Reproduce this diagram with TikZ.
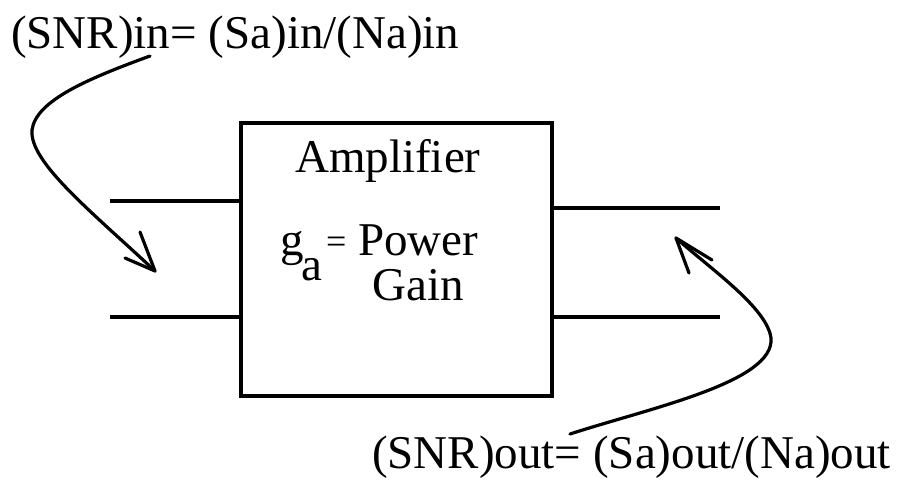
\documentclass[tikz,border=0pt]{standalone}
\usepackage{fontspec}
\setmainfont{Liberation Serif}
\begin{document}
\begin{tikzpicture}[x=1pt,y=-1pt,
  txt/.style={inner sep=0pt,anchor=base west,font=\fontsize{47}{56}\selectfont},
  wire/.style={line width=3.5pt},
  curve/.style={line width=3.2pt,line cap=round,line join=round},
  ampbox/.style={draw,line width=4pt,minimum width=311pt,minimum height=273pt,inner sep=0pt}]
\useasboundingbox (0,0) rectangle (907,480);
% box
\node[ampbox] (amp) at (396,259) {};
% texts inside
\node[txt] (ampl) at (295,172) {Amplifier};
\node[txt] (g) at (280,255) {g};
\node[txt] (gsub) at (301,280) {a};
\node[txt,font=\fontsize{36}{40}\selectfont] (eq) at (326,253) {=};
\node[txt] (pw) at (358,255) {Power};
\node[txt] (gn) at (372,300) {Gain};
% labels
\node[txt] (snrin) at (11,48) {(SNR)in= (Sa)in/(Na)in};
\node[txt] (snrout) at (372,468) {(SNR)out= (Sa)out/(Na)out};
% wires
\coordinate (inA) at (110,201);
\coordinate (inB) at (110,317);
\coordinate (outA) at (720,208);
\coordinate (outB) at (720,317);
\draw[wire] (inA) -- (inA -| amp.west);
\draw[wire] (inB) -- (inB -| amp.west);
\draw[wire] (outA) -- (outA -| amp.east);
\draw[wire] (outB) -- (outB -| amp.east);
% left arrow
\coordinate (sin) at (150,56);
\coordinate (tin) at (155,271);
\draw[curve] (sin) .. controls (90,78) and (36,100) .. (32,130)
  .. controls (29,162) and (92,212) .. (tin);
\draw[curve] (tin) -- ++(-15,-39);
\draw[curve] (tin) -- ++(-30,-13);
% right arrow
\coordinate (sout) at (570,434);
\coordinate (tout) at (676,238);
\draw[curve] (sout) .. controls (650,408) and (775,382) .. (771,338)
  .. controls (767,308) and (712,270) .. (tout);
\draw[curve] (tout) -- ++(36,22);
\draw[curve] (tout) -- ++(13,35);
\end{tikzpicture}
\end{document}
